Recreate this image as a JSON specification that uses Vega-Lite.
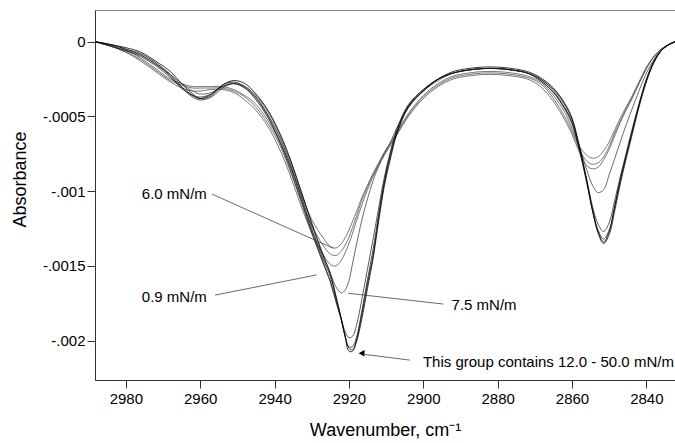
{
  "$schema": "https://vega.github.io/schema/vega-lite/v6.json",
  "width": 580,
  "height": 370,
  "autosize": {"type": "none"},
  "padding": {"left": 95, "top": 10, "right": 0, "bottom": 63},
  "config": {
    "font": "Liberation Sans",
    "view": {"stroke": "#888", "strokeWidth": 1},
    "axis": {"grid": false, "domainColor": "#333", "tickColor": "#333", "labelColor": "#000", "titleColor": "#000", "labelFont": "Liberation Sans", "titleFont": "Liberation Sans", "titleFontWeight": "normal"}
  },
  "layer": [
    {
      "data": {"values": [
{"c":"L3","w":2988.3,"a":0},{"c":"L3","w":2984,"a":-0.00003},{"c":"L3","w":2980,"a":-0.00007},{"c":"L3","w":2976,"a":-0.00013},{"c":"L3","w":2972,"a":-0.0002},{"c":"L3","w":2968,"a":-0.00027},{"c":"L3","w":2965,"a":-0.00031},{"c":"L3","w":2962,"a":-0.00033},{"c":"L3","w":2960,"a":-0.00033},{"c":"L3","w":2957,"a":-0.00032},{"c":"L3","w":2954,"a":-0.00032},{"c":"L3","w":2951,"a":-0.00034},{"c":"L3","w":2948,"a":-0.00039},{"c":"L3","w":2945,"a":-0.00046},{"c":"L3","w":2942,"a":-0.00056},{"c":"L3","w":2939,"a":-0.0007},{"c":"L3","w":2936,"a":-0.00088},{"c":"L3","w":2933,"a":-0.00109},{"c":"L3","w":2930,"a":-0.00128},{"c":"L3","w":2927,"a":-0.00142},{"c":"L3","w":2925,"a":-0.00149},{"c":"L3","w":2923.5,"a":-0.0015},{"c":"L3","w":2922,"a":-0.00146},{"c":"L3","w":2921,"a":-0.00141},{"c":"L3","w":2920,"a":-0.00135},{"c":"L3","w":2919,"a":-0.00128},{"c":"L3","w":2918,"a":-0.0012},{"c":"L3","w":2916.5,"a":-0.00109},{"c":"L3","w":2915,"a":-0.00099},{"c":"L3","w":2913.5,"a":-0.0009},{"c":"L3","w":2912,"a":-0.00083},{"c":"L3","w":2910.5,"a":-0.00076},{"c":"L3","w":2909,"a":-0.0007},{"c":"L3","w":2907,"a":-0.00062},{"c":"L3","w":2904,"a":-0.0005},{"c":"L3","w":2900,"a":-0.00038},{"c":"L3","w":2896,"a":-0.0003},{"c":"L3","w":2892,"a":-0.00025},{"c":"L3","w":2888,"a":-0.00023},{"c":"L3","w":2884,"a":-0.00022},{"c":"L3","w":2880,"a":-0.00022},{"c":"L3","w":2876,"a":-0.00023},{"c":"L3","w":2872,"a":-0.00025},{"c":"L3","w":2868.5,"a":-0.0003},{"c":"L3","w":2865,"a":-0.0004},{"c":"L3","w":2862,"a":-0.00052},{"c":"L3","w":2860,"a":-0.00062},{"c":"L3","w":2858,"a":-0.00074},{"c":"L3","w":2856,"a":-0.00083},{"c":"L3","w":2854.5,"a":-0.00085},{"c":"L3","w":2853,"a":-0.00084},{"c":"L3","w":2851.5,"a":-0.00079},{"c":"L3","w":2850,"a":-0.00072},{"c":"L3","w":2848.5,"a":-0.00063},{"c":"L3","w":2847,"a":-0.00054},{"c":"L3","w":2845.5,"a":-0.00046},{"c":"L3","w":2844,"a":-0.00039},{"c":"L3","w":2842,"a":-0.00028},{"c":"L3","w":2840,"a":-0.00018},{"c":"L3","w":2838,"a":-0.0001},{"c":"L3","w":2836,"a":-0.00005},{"c":"L3","w":2834,"a":-0.00002},{"c":"L3","w":2832.3,"a":0},
{"c":"L2","w":2988.3,"a":0},{"c":"L2","w":2984,"a":-0.00003},{"c":"L2","w":2980,"a":-0.00007},{"c":"L2","w":2976,"a":-0.00012},{"c":"L2","w":2972,"a":-0.00019},{"c":"L2","w":2968,"a":-0.00026},{"c":"L2","w":2965,"a":-0.00029},{"c":"L2","w":2962,"a":-0.00031},{"c":"L2","w":2960,"a":-0.00031},{"c":"L2","w":2957,"a":-0.00031},{"c":"L2","w":2954,"a":-0.00031},{"c":"L2","w":2951,"a":-0.00033},{"c":"L2","w":2948,"a":-0.00037},{"c":"L2","w":2945,"a":-0.00044},{"c":"L2","w":2942,"a":-0.00054},{"c":"L2","w":2939,"a":-0.00067},{"c":"L2","w":2936,"a":-0.00085},{"c":"L2","w":2933,"a":-0.00105},{"c":"L2","w":2930,"a":-0.00123},{"c":"L2","w":2927,"a":-0.00136},{"c":"L2","w":2925,"a":-0.00142},{"c":"L2","w":2923.5,"a":-0.00143},{"c":"L2","w":2922,"a":-0.0014},{"c":"L2","w":2921,"a":-0.00136},{"c":"L2","w":2920,"a":-0.00131},{"c":"L2","w":2919,"a":-0.00124},{"c":"L2","w":2918,"a":-0.00117},{"c":"L2","w":2916.5,"a":-0.00106},{"c":"L2","w":2915,"a":-0.00097},{"c":"L2","w":2913.5,"a":-0.00089},{"c":"L2","w":2912,"a":-0.00082},{"c":"L2","w":2910.5,"a":-0.00075},{"c":"L2","w":2909,"a":-0.00069},{"c":"L2","w":2907,"a":-0.00061},{"c":"L2","w":2904,"a":-0.00049},{"c":"L2","w":2900,"a":-0.00037},{"c":"L2","w":2896,"a":-0.00029},{"c":"L2","w":2892,"a":-0.00024},{"c":"L2","w":2888,"a":-0.00022},{"c":"L2","w":2884,"a":-0.00021},{"c":"L2","w":2880,"a":-0.00021},{"c":"L2","w":2876,"a":-0.00022},{"c":"L2","w":2872,"a":-0.00024},{"c":"L2","w":2868.5,"a":-0.00028},{"c":"L2","w":2865,"a":-0.00038},{"c":"L2","w":2862,"a":-0.0005},{"c":"L2","w":2860,"a":-0.0006},{"c":"L2","w":2858,"a":-0.00072},{"c":"L2","w":2856,"a":-0.0008},{"c":"L2","w":2854.5,"a":-0.00082},{"c":"L2","w":2853,"a":-0.00081},{"c":"L2","w":2851.5,"a":-0.00077},{"c":"L2","w":2850,"a":-0.0007},{"c":"L2","w":2848.5,"a":-0.00061},{"c":"L2","w":2847,"a":-0.00053},{"c":"L2","w":2845.5,"a":-0.00045},{"c":"L2","w":2844,"a":-0.00038},{"c":"L2","w":2842,"a":-0.00028},{"c":"L2","w":2840,"a":-0.00018},{"c":"L2","w":2838,"a":-0.0001},{"c":"L2","w":2836,"a":-0.00005},{"c":"L2","w":2834,"a":-0.00002},{"c":"L2","w":2832.3,"a":0},
{"c":"L1","w":2988.3,"a":0},{"c":"L1","w":2984,"a":-0.00003},{"c":"L1","w":2980,"a":-0.00006},{"c":"L1","w":2976,"a":-0.00011},{"c":"L1","w":2972,"a":-0.00018},{"c":"L1","w":2968,"a":-0.00025},{"c":"L1","w":2965,"a":-0.00028},{"c":"L1","w":2962,"a":-0.0003},{"c":"L1","w":2960,"a":-0.0003},{"c":"L1","w":2957,"a":-0.0003},{"c":"L1","w":2954,"a":-0.0003},{"c":"L1","w":2951,"a":-0.00032},{"c":"L1","w":2948,"a":-0.00036},{"c":"L1","w":2945,"a":-0.00042},{"c":"L1","w":2942,"a":-0.00052},{"c":"L1","w":2939,"a":-0.00065},{"c":"L1","w":2936,"a":-0.00082},{"c":"L1","w":2933,"a":-0.00101},{"c":"L1","w":2930,"a":-0.00119},{"c":"L1","w":2927,"a":-0.00131},{"c":"L1","w":2925,"a":-0.00137},{"c":"L1","w":2923.5,"a":-0.00138},{"c":"L1","w":2922,"a":-0.00135},{"c":"L1","w":2921,"a":-0.00131},{"c":"L1","w":2920,"a":-0.00126},{"c":"L1","w":2919,"a":-0.0012},{"c":"L1","w":2918,"a":-0.00114},{"c":"L1","w":2916.5,"a":-0.00104},{"c":"L1","w":2915,"a":-0.00096},{"c":"L1","w":2913.5,"a":-0.00088},{"c":"L1","w":2912,"a":-0.00081},{"c":"L1","w":2910.5,"a":-0.00074},{"c":"L1","w":2909,"a":-0.00068},{"c":"L1","w":2907,"a":-0.0006},{"c":"L1","w":2904,"a":-0.00048},{"c":"L1","w":2900,"a":-0.00036},{"c":"L1","w":2896,"a":-0.00028},{"c":"L1","w":2892,"a":-0.00023},{"c":"L1","w":2888,"a":-0.00021},{"c":"L1","w":2884,"a":-0.0002},{"c":"L1","w":2880,"a":-0.0002},{"c":"L1","w":2876,"a":-0.00021},{"c":"L1","w":2872,"a":-0.00023},{"c":"L1","w":2868.5,"a":-0.00027},{"c":"L1","w":2865,"a":-0.00036},{"c":"L1","w":2862,"a":-0.00047},{"c":"L1","w":2860,"a":-0.00058},{"c":"L1","w":2858,"a":-0.0007},{"c":"L1","w":2856,"a":-0.00076},{"c":"L1","w":2854.5,"a":-0.00078},{"c":"L1","w":2853,"a":-0.00077},{"c":"L1","w":2851.5,"a":-0.00073},{"c":"L1","w":2850,"a":-0.00067},{"c":"L1","w":2848.5,"a":-0.00059},{"c":"L1","w":2847,"a":-0.00051},{"c":"L1","w":2845.5,"a":-0.00044},{"c":"L1","w":2844,"a":-0.00037},{"c":"L1","w":2842,"a":-0.00027},{"c":"L1","w":2840,"a":-0.00017},{"c":"L1","w":2838,"a":-0.0001},{"c":"L1","w":2836,"a":-0.00005},{"c":"L1","w":2834,"a":-0.00002},{"c":"L1","w":2832.3,"a":0},
{"c":"M","w":2988.3,"a":0},{"c":"M","w":2984,"a":-0.00002},{"c":"M","w":2980,"a":-0.00005},{"c":"M","w":2976,"a":-0.00009},{"c":"M","w":2972,"a":-0.00015},{"c":"M","w":2968,"a":-0.00022},{"c":"M","w":2965,"a":-0.00028},{"c":"M","w":2962,"a":-0.00033},{"c":"M","w":2960,"a":-0.00035},{"c":"M","w":2957,"a":-0.00034},{"c":"M","w":2954,"a":-0.0003},{"c":"M","w":2951,"a":-0.00028},{"c":"M","w":2948,"a":-0.0003},{"c":"M","w":2945,"a":-0.00036},{"c":"M","w":2942,"a":-0.00046},{"c":"M","w":2939,"a":-0.0006},{"c":"M","w":2936,"a":-0.00078},{"c":"M","w":2933,"a":-0.00099},{"c":"M","w":2930,"a":-0.00121},{"c":"M","w":2927,"a":-0.00142},{"c":"M","w":2925,"a":-0.00155},{"c":"M","w":2923.5,"a":-0.00164},{"c":"M","w":2922,"a":-0.00168},{"c":"M","w":2921,"a":-0.00166},{"c":"M","w":2920,"a":-0.0016},{"c":"M","w":2919,"a":-0.00148},{"c":"M","w":2918,"a":-0.00136},{"c":"M","w":2916.5,"a":-0.00119},{"c":"M","w":2915,"a":-0.00105},{"c":"M","w":2913.5,"a":-0.00093},{"c":"M","w":2912,"a":-0.00083},{"c":"M","w":2910.5,"a":-0.00075},{"c":"M","w":2909,"a":-0.00068},{"c":"M","w":2907,"a":-0.00057},{"c":"M","w":2904,"a":-0.00044},{"c":"M","w":2900,"a":-0.00033},{"c":"M","w":2896,"a":-0.00026},{"c":"M","w":2892,"a":-0.00021},{"c":"M","w":2888,"a":-0.00019},{"c":"M","w":2884,"a":-0.00018},{"c":"M","w":2880,"a":-0.00018},{"c":"M","w":2876,"a":-0.00019},{"c":"M","w":2872,"a":-0.00021},{"c":"M","w":2868.5,"a":-0.00025},{"c":"M","w":2865,"a":-0.00033},{"c":"M","w":2862,"a":-0.00044},{"c":"M","w":2860,"a":-0.00054},{"c":"M","w":2858,"a":-0.0007},{"c":"M","w":2856,"a":-0.00086},{"c":"M","w":2854.5,"a":-0.00096},{"c":"M","w":2853,"a":-0.00101},{"c":"M","w":2851.5,"a":-0.00099},{"c":"M","w":2850,"a":-0.00089},{"c":"M","w":2848.5,"a":-0.00078},{"c":"M","w":2847,"a":-0.00067},{"c":"M","w":2845.5,"a":-0.00056},{"c":"M","w":2844,"a":-0.00046},{"c":"M","w":2842,"a":-0.00033},{"c":"M","w":2840,"a":-0.00021},{"c":"M","w":2838,"a":-0.00012},{"c":"M","w":2836,"a":-0.00005},{"c":"M","w":2834,"a":-0.00002},{"c":"M","w":2832.3,"a":0},
{"c":"N","w":2988.3,"a":0},{"c":"N","w":2984,"a":-0.00003},{"c":"N","w":2980,"a":-0.00006},{"c":"N","w":2976,"a":-0.0001},{"c":"N","w":2972,"a":-0.00016},{"c":"N","w":2968,"a":-0.00024},{"c":"N","w":2965,"a":-0.00031},{"c":"N","w":2962,"a":-0.00036},{"c":"N","w":2960,"a":-0.00037},{"c":"N","w":2957,"a":-0.00035},{"c":"N","w":2954,"a":-0.0003},{"c":"N","w":2951,"a":-0.00028},{"c":"N","w":2948,"a":-0.00031},{"c":"N","w":2945,"a":-0.00039},{"c":"N","w":2942,"a":-0.0005},{"c":"N","w":2939,"a":-0.00065},{"c":"N","w":2936,"a":-0.00084},{"c":"N","w":2933,"a":-0.00106},{"c":"N","w":2930,"a":-0.00128},{"c":"N","w":2927,"a":-0.00148},{"c":"N","w":2925,"a":-0.00161},{"c":"N","w":2923.5,"a":-0.00174},{"c":"N","w":2922,"a":-0.00186},{"c":"N","w":2921,"a":-0.00194},{"c":"N","w":2920,"a":-0.00198},{"c":"N","w":2919,"a":-0.00197},{"c":"N","w":2918,"a":-0.0019},{"c":"N","w":2916.5,"a":-0.00172},{"c":"N","w":2915,"a":-0.00152},{"c":"N","w":2913.5,"a":-0.00132},{"c":"N","w":2912,"a":-0.00111},{"c":"N","w":2910.5,"a":-0.00091},{"c":"N","w":2909,"a":-0.00075},{"c":"N","w":2907,"a":-0.00058},{"c":"N","w":2904,"a":-0.00043},{"c":"N","w":2900,"a":-0.00032},{"c":"N","w":2896,"a":-0.00025},{"c":"N","w":2892,"a":-0.00021},{"c":"N","w":2888,"a":-0.00019},{"c":"N","w":2884,"a":-0.00018},{"c":"N","w":2880,"a":-0.00018},{"c":"N","w":2876,"a":-0.00019},{"c":"N","w":2872,"a":-0.00021},{"c":"N","w":2868.5,"a":-0.00026},{"c":"N","w":2865,"a":-0.00034},{"c":"N","w":2862,"a":-0.00045},{"c":"N","w":2860,"a":-0.00055},{"c":"N","w":2858,"a":-0.00072},{"c":"N","w":2856,"a":-0.00093},{"c":"N","w":2854.5,"a":-0.0011},{"c":"N","w":2853,"a":-0.00122},{"c":"N","w":2851.5,"a":-0.00127},{"c":"N","w":2850,"a":-0.00121},{"c":"N","w":2848.5,"a":-0.00106},{"c":"N","w":2847,"a":-0.0009},{"c":"N","w":2845.5,"a":-0.00075},{"c":"N","w":2844,"a":-0.0006},{"c":"N","w":2842,"a":-0.00042},{"c":"N","w":2840,"a":-0.00026},{"c":"N","w":2838,"a":-0.00014},{"c":"N","w":2836,"a":-0.00006},{"c":"N","w":2834,"a":-0.00002},{"c":"N","w":2832.3,"a":0},
{"c":"G3","w":2988.3,"a":0},{"c":"G3","w":2984,"a":-0.00003},{"c":"G3","w":2980,"a":-0.00006},{"c":"G3","w":2976,"a":-0.00009},{"c":"G3","w":2972,"a":-0.00015},{"c":"G3","w":2968,"a":-0.00023},{"c":"G3","w":2965,"a":-0.00031},{"c":"G3","w":2962,"a":-0.00037},{"c":"G3","w":2960,"a":-0.00039},{"c":"G3","w":2957,"a":-0.00037},{"c":"G3","w":2954,"a":-0.00031},{"c":"G3","w":2951,"a":-0.00028},{"c":"G3","w":2948,"a":-0.00031},{"c":"G3","w":2945,"a":-0.00038},{"c":"G3","w":2942,"a":-0.00049},{"c":"G3","w":2939,"a":-0.00064},{"c":"G3","w":2936,"a":-0.00082},{"c":"G3","w":2933,"a":-0.00104},{"c":"G3","w":2930,"a":-0.00127},{"c":"G3","w":2927,"a":-0.00147},{"c":"G3","w":2925,"a":-0.0016},{"c":"G3","w":2923.5,"a":-0.00173},{"c":"G3","w":2922,"a":-0.00187},{"c":"G3","w":2921,"a":-0.00197},{"c":"G3","w":2920,"a":-0.00204},{"c":"G3","w":2919,"a":-0.00204},{"c":"G3","w":2918,"a":-0.00198},{"c":"G3","w":2916.5,"a":-0.0018},{"c":"G3","w":2915,"a":-0.00159},{"c":"G3","w":2913.5,"a":-0.00139},{"c":"G3","w":2912,"a":-0.00115},{"c":"G3","w":2910.5,"a":-0.00093},{"c":"G3","w":2909,"a":-0.00076},{"c":"G3","w":2907,"a":-0.00058},{"c":"G3","w":2904,"a":-0.00042},{"c":"G3","w":2900,"a":-0.00032},{"c":"G3","w":2896,"a":-0.00025},{"c":"G3","w":2892,"a":-0.00021},{"c":"G3","w":2888,"a":-0.00019},{"c":"G3","w":2884,"a":-0.00018},{"c":"G3","w":2880,"a":-0.00018},{"c":"G3","w":2876,"a":-0.00019},{"c":"G3","w":2872,"a":-0.00021},{"c":"G3","w":2868.5,"a":-0.00026},{"c":"G3","w":2865,"a":-0.00034},{"c":"G3","w":2862,"a":-0.00044},{"c":"G3","w":2860,"a":-0.00054},{"c":"G3","w":2858,"a":-0.00073},{"c":"G3","w":2856,"a":-0.00095},{"c":"G3","w":2854.5,"a":-0.00113},{"c":"G3","w":2853,"a":-0.00126},{"c":"G3","w":2851.5,"a":-0.00132},{"c":"G3","w":2850,"a":-0.00126},{"c":"G3","w":2848.5,"a":-0.0011},{"c":"G3","w":2847,"a":-0.00093},{"c":"G3","w":2845.5,"a":-0.00077},{"c":"G3","w":2844,"a":-0.00062},{"c":"G3","w":2842,"a":-0.00043},{"c":"G3","w":2840,"a":-0.00026},{"c":"G3","w":2838,"a":-0.00014},{"c":"G3","w":2836,"a":-0.00006},{"c":"G3","w":2834,"a":-0.00002},{"c":"G3","w":2832.3,"a":0},
{"c":"G2","w":2988.3,"a":0},{"c":"G2","w":2984,"a":-0.00002},{"c":"G2","w":2980,"a":-0.00005},{"c":"G2","w":2976,"a":-0.00008},{"c":"G2","w":2972,"a":-0.00014},{"c":"G2","w":2968,"a":-0.00022},{"c":"G2","w":2965,"a":-0.0003},{"c":"G2","w":2962,"a":-0.00036},{"c":"G2","w":2960,"a":-0.00038},{"c":"G2","w":2957,"a":-0.00035},{"c":"G2","w":2954,"a":-0.00029},{"c":"G2","w":2951,"a":-0.00027},{"c":"G2","w":2948,"a":-0.0003},{"c":"G2","w":2945,"a":-0.00037},{"c":"G2","w":2942,"a":-0.00048},{"c":"G2","w":2939,"a":-0.00062},{"c":"G2","w":2936,"a":-0.0008},{"c":"G2","w":2933,"a":-0.00102},{"c":"G2","w":2930,"a":-0.00125},{"c":"G2","w":2927,"a":-0.00145},{"c":"G2","w":2925,"a":-0.00157},{"c":"G2","w":2923.5,"a":-0.00171},{"c":"G2","w":2922,"a":-0.00186},{"c":"G2","w":2921,"a":-0.00197},{"c":"G2","w":2920,"a":-0.00205},{"c":"G2","w":2919,"a":-0.00206},{"c":"G2","w":2918,"a":-0.00201},{"c":"G2","w":2916.5,"a":-0.00185},{"c":"G2","w":2915,"a":-0.00165},{"c":"G2","w":2913.5,"a":-0.00145},{"c":"G2","w":2912,"a":-0.0012},{"c":"G2","w":2910.5,"a":-0.00097},{"c":"G2","w":2909,"a":-0.0008},{"c":"G2","w":2907,"a":-0.00061},{"c":"G2","w":2904,"a":-0.00044},{"c":"G2","w":2900,"a":-0.00033},{"c":"G2","w":2896,"a":-0.00025},{"c":"G2","w":2892,"a":-0.00021},{"c":"G2","w":2888,"a":-0.00019},{"c":"G2","w":2884,"a":-0.00018},{"c":"G2","w":2880,"a":-0.00018},{"c":"G2","w":2876,"a":-0.00019},{"c":"G2","w":2872,"a":-0.00021},{"c":"G2","w":2868.5,"a":-0.00025},{"c":"G2","w":2865,"a":-0.00032},{"c":"G2","w":2862,"a":-0.00042},{"c":"G2","w":2860,"a":-0.00052},{"c":"G2","w":2858,"a":-0.00071},{"c":"G2","w":2856,"a":-0.00094},{"c":"G2","w":2854.5,"a":-0.00113},{"c":"G2","w":2853,"a":-0.00128},{"c":"G2","w":2851.5,"a":-0.00135},{"c":"G2","w":2850,"a":-0.00129},{"c":"G2","w":2848.5,"a":-0.00113},{"c":"G2","w":2847,"a":-0.00095},{"c":"G2","w":2845.5,"a":-0.00079},{"c":"G2","w":2844,"a":-0.00064},{"c":"G2","w":2842,"a":-0.00044},{"c":"G2","w":2840,"a":-0.00027},{"c":"G2","w":2838,"a":-0.00014},{"c":"G2","w":2836,"a":-0.00006},{"c":"G2","w":2834,"a":-0.00002},{"c":"G2","w":2832.3,"a":0},
{"c":"G1","w":2988.3,"a":0},{"c":"G1","w":2984,"a":-0.00002},{"c":"G1","w":2980,"a":-0.00004},{"c":"G1","w":2976,"a":-0.00007},{"c":"G1","w":2972,"a":-0.00013},{"c":"G1","w":2968,"a":-0.0002},{"c":"G1","w":2965,"a":-0.00028},{"c":"G1","w":2962,"a":-0.00035},{"c":"G1","w":2960,"a":-0.00038},{"c":"G1","w":2957,"a":-0.00036},{"c":"G1","w":2954,"a":-0.00029},{"c":"G1","w":2951,"a":-0.00026},{"c":"G1","w":2948,"a":-0.00028},{"c":"G1","w":2945,"a":-0.00035},{"c":"G1","w":2942,"a":-0.00045},{"c":"G1","w":2939,"a":-0.00059},{"c":"G1","w":2936,"a":-0.00077},{"c":"G1","w":2933,"a":-0.00099},{"c":"G1","w":2930,"a":-0.00122},{"c":"G1","w":2927,"a":-0.00143},{"c":"G1","w":2925,"a":-0.00155},{"c":"G1","w":2923.5,"a":-0.0017},{"c":"G1","w":2922,"a":-0.00186},{"c":"G1","w":2921,"a":-0.00198},{"c":"G1","w":2920,"a":-0.00207},{"c":"G1","w":2919,"a":-0.00207},{"c":"G1","w":2918,"a":-0.002},{"c":"G1","w":2916.5,"a":-0.00182},{"c":"G1","w":2915,"a":-0.00162},{"c":"G1","w":2913.5,"a":-0.00143},{"c":"G1","w":2912,"a":-0.00118},{"c":"G1","w":2910.5,"a":-0.00095},{"c":"G1","w":2909,"a":-0.00078},{"c":"G1","w":2907,"a":-0.0006},{"c":"G1","w":2904,"a":-0.00043},{"c":"G1","w":2900,"a":-0.00033},{"c":"G1","w":2896,"a":-0.00025},{"c":"G1","w":2892,"a":-0.0002},{"c":"G1","w":2888,"a":-0.00018},{"c":"G1","w":2884,"a":-0.00017},{"c":"G1","w":2880,"a":-0.00017},{"c":"G1","w":2876,"a":-0.00018},{"c":"G1","w":2872,"a":-0.0002},{"c":"G1","w":2868.5,"a":-0.00024},{"c":"G1","w":2865,"a":-0.00031},{"c":"G1","w":2862,"a":-0.00041},{"c":"G1","w":2860,"a":-0.00051},{"c":"G1","w":2858,"a":-0.0007},{"c":"G1","w":2856,"a":-0.00093},{"c":"G1","w":2854.5,"a":-0.00112},{"c":"G1","w":2853,"a":-0.00127},{"c":"G1","w":2851.5,"a":-0.00134},{"c":"G1","w":2850,"a":-0.00127},{"c":"G1","w":2848.5,"a":-0.0011},{"c":"G1","w":2847,"a":-0.00092},{"c":"G1","w":2845.5,"a":-0.00077},{"c":"G1","w":2844,"a":-0.00062},{"c":"G1","w":2842,"a":-0.00042},{"c":"G1","w":2840,"a":-0.00025},{"c":"G1","w":2838,"a":-0.00013},{"c":"G1","w":2836,"a":-0.00006},{"c":"G1","w":2834,"a":-0.00002},{"c":"G1","w":2832.3,"a":0}
      ]},
      "mark": {"type": "line", "interpolate": "catmull-rom"},
      "encoding": {
        "x": {"field": "w", "type": "quantitative",
              "scale": {"domain": [2832.3, 2988.3], "reverse": true, "nice": false, "zero": false},
              "axis": {"values": [2980, 2960, 2940, 2920, 2900, 2880, 2860, 2840], "format": "d", "labelFontSize": 15, "tickSize": 8, "labelPadding": 3,
                       "title": "Wavenumber, cm⁻¹", "titleFontSize": 18, "titleY": 50, "titleBaseline": "middle"}},
        "y": {"field": "a", "type": "quantitative",
              "scale": {"domain": [-0.002263, 0.000212], "nice": false, "zero": false},
              "axis": {"values": [0, -0.0005, -0.001, -0.0015, -0.002], "labelExpr": "datum.value == 0 ? '0' : replace('' + datum.value, '-0.', '-.')", "labelFontSize": 15, "tickSize": 8, "labelPadding": 2,
                       "title": "Absorbance", "titleFontSize": 18, "titleX": -75, "titleY": 169, "titleBaseline": "middle", "titleAngle": -90}},
        "color": {"field": "c", "type": "nominal", "legend": null,
                  "scale": {"domain": ["L3", "L2", "L1", "M", "N", "G3", "G2", "G1"], "range": ["#555", "#555", "#555", "#444", "#333", "#222", "#111", "#000"]}},
        "strokeWidth": {"field": "c", "type": "nominal", "legend": null,
                  "scale": {"domain": ["L3", "L2", "L1", "M", "N", "G3", "G2", "G1"], "range": [0.8, 0.8, 0.8, 0.8, 1, 1.2, 1.2, 1.4]}}
      }
    },
    {
      "data": {"values": [
        {"x1": 2956.9, "y1": -0.001019, "x2": 2924.2, "y2": -0.001382},
        {"x1": 2956.0, "y1": -0.001695, "x2": 2928.7, "y2": -0.00156},
        {"x1": 2920.2, "y1": -0.001683, "x2": 2894.6, "y2": -0.001755},
        {"x1": 2915.7, "y1": -0.002092, "x2": 2903.6, "y2": -0.00213}
      ]},
      "mark": {"type": "rule", "color": "#444", "strokeWidth": 0.8},
      "encoding": {
        "x": {"field": "x1", "type": "quantitative"},
        "y": {"field": "y1", "type": "quantitative"},
        "x2": {"field": "x2"},
        "y2": {"field": "y2"}
      }
    },
    {
      "data": {"values": [{"x": 2916.6, "y": -0.002084}]},
      "mark": {"type": "point", "shape": "triangle-left", "filled": true, "color": "#000", "size": 45, "opacity": 1},
      "encoding": {
        "x": {"field": "x", "type": "quantitative"},
        "y": {"field": "y", "type": "quantitative"}
      }
    },
    {
      "data": {"values": [
        {"x": 2975.7, "y": -0.001019, "t": "6.0 mN/m"},
        {"x": 2975.7, "y": -0.001706, "t": "0.9 mN/m"},
        {"x": 2892.4, "y": -0.001761, "t": "7.5 mN/m"},
        {"x": 2900.1, "y": -0.002142, "t": "This group contains 12.0 - 50.0 mN/m"}
      ]},
      "mark": {"type": "text", "align": "left", "baseline": "middle", "fontSize": 15, "font": "Liberation Sans", "color": "#000"},
      "encoding": {
        "x": {"field": "x", "type": "quantitative"},
        "y": {"field": "y", "type": "quantitative"},
        "text": {"field": "t"}
      }
    }
  ]
}
